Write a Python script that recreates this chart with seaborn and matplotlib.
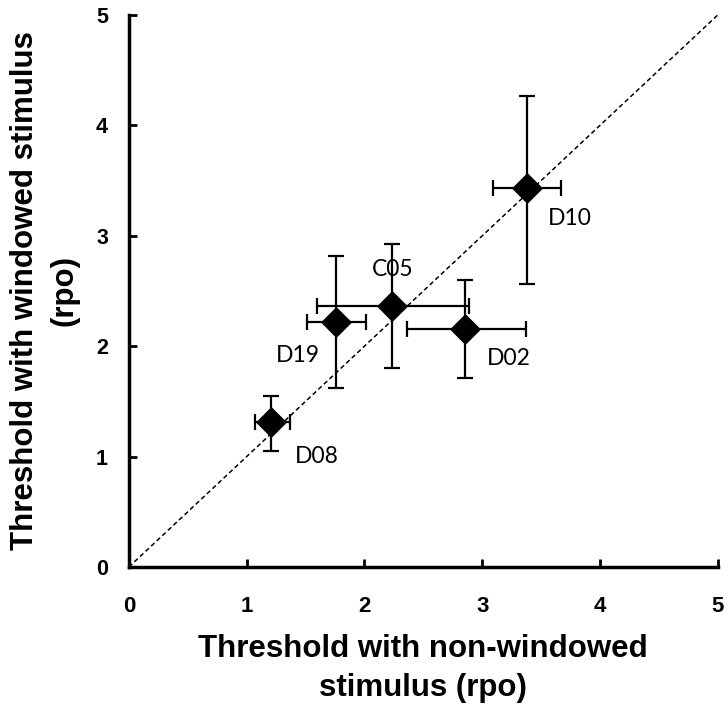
import matplotlib
matplotlib.use("Agg")
import matplotlib.pyplot as plt
import seaborn as sns
import pandas as pd

subjects = ["D08", "D19", "C05", "D02", "D10"]
x_vals = [1.21, 1.755, 2.235, 2.855, 3.38]
y_vals = [1.31, 2.215, 2.36, 2.155, 3.435]
x_lo = [1.07, 1.51, 1.60, 2.36, 3.09]
x_hi = [1.37, 2.01, 2.89, 3.37, 3.67]
y_lo = [1.05, 1.625, 1.80, 1.71, 2.56]
y_hi = [1.55, 2.82, 2.925, 2.595, 4.27]
label_x = [1.41, 1.62, 2.06, 3.04, 3.56]
label_y = [1.00, 1.92, 2.69, 1.89, 3.16]
label_ha = ["left", "right", "left", "left", "left"]
ticks = [0, 1, 2, 3, 4, 5]

df = pd.DataFrame({"subject": subjects, "x": x_vals, "y": y_vals})

sns.set_style("ticks", {"axes.edgecolor": "black", "text.color": "black",
                        "xtick.color": "black", "ytick.color": "black",
                        "axes.labelcolor": "black"})
plt.rcParams["font.family"] = ["Liberation Sans", "DejaVu Sans"]

fig = plt.figure(figsize=(7.28, 7.11), dpi=100)
ax = fig.add_axes([0.177, 0.2025, 0.809, 0.7765])

# diagonal identity line
ax.plot([0, 5], [0, 5], ls=(0, (3, 2)), color="black", lw=1.1, zorder=1)

xerr = [[x - lo for x, lo in zip(x_vals, x_lo)], [hi - x for x, hi in zip(x_vals, x_hi)]]
yerr = [[y - lo for y, lo in zip(y_vals, y_lo)], [hi - y for y, hi in zip(y_vals, y_hi)]]
ax.errorbar(x_vals, y_vals, xerr=xerr, yerr=yerr, fmt="none", ecolor="black",
            elinewidth=1.6, capsize=6, capthick=1.6, zorder=2)

sns.scatterplot(data=df, x="x", y="y", marker="D", s=250, color="black",
                edgecolor="black", linewidth=0, ax=ax, zorder=3, legend=False)

for s, lx, ly, ha in zip(subjects, label_x, label_y, label_ha):
    ax.text(lx, ly, s, ha=ha, va="center", fontsize=16.5, color="black",
            family=["Lato", "DejaVu Sans"])

ax.set_xlim(0, 5)
ax.set_ylim(0, 5)
ax.set_xticks(ticks)
ax.set_yticks(ticks)
ax.set_xticklabels([str(t) for t in ticks], fontsize=16, fontweight="bold")
ax.set_yticklabels([str(t) for t in ticks], fontsize=15.5, fontweight="bold")
ax.tick_params(direction="in", length=6, width=2, colors="black")
ax.tick_params(axis="x", pad=21)
ax.tick_params(axis="y", pad=15)

for side in ["top", "right"]:
    ax.spines[side].set_visible(False)
for side in ["left", "bottom"]:
    ax.spines[side].set_linewidth(2.5)
    ax.spines[side].set_color("black")

ax.set_xlabel("Threshold with non-windowed\nstimulus (rpo)", fontsize=22.5,
              fontweight="bold", labelpad=12, linespacing=1.4, color="black")
ax.set_ylabel("Threshold with windowed stimulus\n(rpo)", fontsize=22.5,
              fontweight="bold", labelpad=12, linespacing=1.4, color="black")

fig.savefig("out.png", dpi=100)
